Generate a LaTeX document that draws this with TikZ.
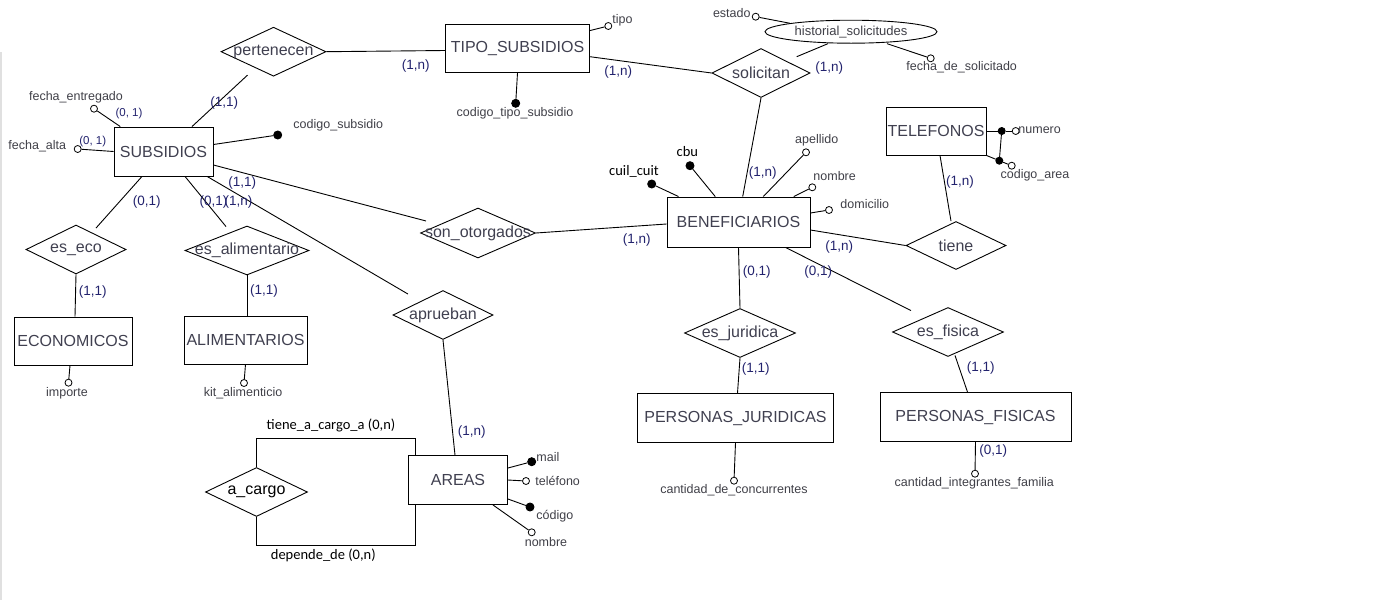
\documentclass[tikz,border=0pt]{standalone}
\usepackage{fontspec}
\setmainfont{Liberation Sans}
\newfontfamily\calib{Carlito}
\usetikzlibrary{shapes.geometric}
\definecolor{ertxt}{RGB}{64,64,80}
\definecolor{cardtxt}{RGB}{35,35,110}
\definecolor{atxt}{RGB}{64,64,72}

\begin{document}
\begin{tikzpicture}[x=1pt, y=-1pt, line width=0.9pt,
  ent/.style={draw, rectangle, minimum height=49pt, inner sep=1pt, text=ertxt, font=\fontsize{16}{18}\selectfont},
  rel/.style={draw, diamond, inner sep=0pt, minimum height=49pt, label={[reltxt]center:#1}},
  reltxt/.style={text=ertxt, font=\fontsize{16}{18}\selectfont, inner sep=0pt},
  card/.style={text=cardtxt, font=\fontsize{13.5}{15}\selectfont, inner sep=0pt},
  smallcard/.style={card, font=\fontsize{11.5}{13}\selectfont},
  attr/.style={text=atxt, font=\fontsize{12.5}{14}\selectfont, inner sep=0pt},
  blk/.style={text=black, font=\calib\fontsize{14.5}{16}\selectfont, inner sep=0pt},
  opdot/.style={circle, draw, fill=white, inner sep=0pt, minimum size=7pt, line width=0.8pt},
  kdot/.style={circle, draw, fill=black, inner sep=0pt, minimum size=8pt}]

\path[use as bounding box, fill=white] (0,0) rectangle (1400,600);
\draw[black!12, line width=1.5pt] (0.75,52) -- (0.75,600);

% entidades
\node[ent, minimum width=99pt] (sub) at (163.5,151.5) {SUBSIDIOS};
\node[ent, minimum width=144pt, minimum height=48pt] (tipo) at (517.5,48.5) {TIPO\_SUBSIDIOS};
\node[ent, minimum width=143pt, minimum height=50pt] (ben) at (738.5,222) {BENEFICIARIOS};
\node[ent, minimum width=100pt, minimum height=48pt] (tel) at (936,131) {TELEFONOS};
\node[ent, minimum width=118pt, minimum height=48pt] (eco) at (73,341) {ECONOMICOS};
\node[ent, minimum width=123pt, minimum height=48pt] (ali) at (245.5,340) {ALIMENTARIOS};
\node[ent, minimum width=99pt] (areas) at (458,480) {AREAS};
\node[ent, minimum width=196pt] (pju) at (735.5,418) {PERSONAS\_JURIDICAS};
\node[ent, minimum width=191pt] (pfi) at (975.5,417) {PERSONAS\_FISICAS};

% relaciones
\node[rel=pertenecen, minimum width=105pt] (pert) at (273.5,51.7) {};
\node[rel=solicitan, minimum width=98pt] (solic) at (761,73) {};
\node[rel=son\_otorgados, minimum width=115pt, minimum height=50pt] (sonot) at (478,233) {};
\node[rel=aprueban, minimum width=100pt] (aprue) at (443,315) {};
\node[rel=es\_eco, minimum width=100pt] (eseco) at (76,249.5) {};
\node[rel=es\_alimentario, minimum width=124pt] (esali) at (247,250.5) {};
\node[rel=tiene, minimum width=100pt, minimum height=48pt] (tiene) at (956,245.5) {};
\node[rel=es\_juridica, minimum width=111pt] (esjur) at (740,333) {};
\node[rel=es\_fisica, minimum width=111pt] (esfis) at (948,332) {};
\node[rel={\color{black}a\_cargo}, minimum width=102pt] (acargo) at (256.5,492) {};
\node[draw, ellipse, inner sep=0pt, minimum width=172pt, minimum height=23pt, text=atxt, font=\fontsize{13}{15}\selectfont] (hist) at (851,31.7) {historial\_solicitudes};

% conexiones
\draw ([shift={(28.5,0)}]sub.north) -- ([shift={(-26,-1.5)}]pert.south);
\draw (pert.east) -- ([shift={(0,2)}]tipo.west);
\draw ([shift={(0,8.2)}]tipo.east) -- (solic.west);
\draw (solic.south) -- ([shift={(4.2,0)}]ben.north);
\draw ([shift={(0,13.5)}]sub.east) -- ([shift={(6,-12)}]sonot.west);
\draw (sonot.east) -- ([shift={(0,2)}]ben.west);
\draw ([shift={(-6.3,0)}]sub.south east) -- ([shift={(-35,4)}]aprue.north);
\draw (aprue.south) -- ([shift={(-3,0)}]areas.north);
\draw ([shift={(-21.5,0)}]sub.south) -- ([shift={(20,3.5)}]eseco.north);
\draw ([shift={(21.5,0)}]sub.south) -- ([shift={(-21,1)}]esali.north);
\draw (eseco.south) -- ([shift={(2,0)}]eco.north);
\draw (esali.south) -- ([shift={(1.5,0)}]ali.north);
\draw ([shift={(0,8)}]ben.east) -- (tiene.west);
\draw ([shift={(4,0)}]tel.south) -- ([shift={(-5,0)}]tiene.north);
\draw (ben.south) -- (esjur.north);
\draw ([shift={(47,0)}]ben.south) -- ([shift={(-37,3.5)}]esfis.north);
\draw (esjur.south) -- ([shift={(2,0)}]pju.north);
\draw ([shift={(7,-1.5)}]esfis.south) -- ([shift={(-8,0)}]pfi.north);
\draw (acargo.north) |- ([shift={(7,-17)}]areas.north west) -- ([shift={(7,0)}]areas.north west);
\draw (acargo.south) |- ([shift={(7,40)}]areas.south west) -- ([shift={(7,0)}]areas.south west);
\coordinate (histend) at (796.7,56.7);
\draw ([shift={(-23,0)}]hist.south) -- (histend);

% atributos SUBSIDIOS
\node[opdot] (fent) at (94,108.7) {};
\node[attr] (fentl) at (76,97.7) {fecha\_entregado};
\node[opdot] (falt) at (77.7,149) {};
\node[attr] (faltl) at (37.3,146.7) {fecha\_alta};
\node[kdot] (csub) at (277.7,135) {};
\node[attr] (csubl) at (338.3,125.7) {codigo\_subsidio};
\draw ([shift={(6.7,0)}]sub.north west) -- (fent);
\draw (sub.west) -- (falt);
\draw ([shift={(0,-7)}]sub.east) -- (csub);

% atributos TIPO_SUBSIDIOS
\node[opdot] (tip) at (608.3,26) {};
\node[attr, anchor=west] (tipl) at (612,20.7) {tipo};
\node[kdot] (ctip) at (515.7,103.3) {};
\node[attr] (ctipl) at (515,113.3) {codigo\_tipo\_subsidio};
\draw ([shift={(0,6.5)}]tipo.north east) -- (tip);
\draw (tipo.south) -- (ctip);

% atributos historial
\node[opdot] (est) at (755.7,16.7) {};
\node[attr, anchor=east] (estl) at (751,13.3) {estado};
\node[opdot] (fsol) at (930.7,58.3) {};
\node[attr] (fsoll) at (961.7,67.7) {fecha\_de\_solicitado};
\draw (est) -- (hist.north west);
\draw ([shift={(36,0)}]hist.south) -- (fsol);

% atributos BENEFICIARIOS
\node[kdot] (cuil) at (651.7,184) {};
\node[blk] (cuill) at (634,171.7) {cuil\_cuit};
\node[kdot] (cbu) at (690,165.7) {};
\node[blk] (cbul) at (687.3,151.7) {cbu};
\node[opdot] (ape) at (806,152.3) {};
\node[attr] (apel) at (816.7,140.7) {apellido};
\node[opdot] (nom) at (812.3,187.3) {};
\node[attr, anchor=west] (noml) at (813,175.7) {nombre};
\node[opdot] (dom) at (829,210) {};
\node[attr, anchor=west] (doml) at (840,204) {domicilio};
\draw ([shift={(12,0)}]ben.north west) -- (cuil);
\draw ([shift={(48.7,0)}]ben.north west) -- (cbu);
\draw ([shift={(24.8,0)}]ben.north) -- (ape);
\draw ([shift={(-16.7,0)}]ben.north east) -- (nom);
\draw ([shift={(0,-9)}]ben.east) -- (dom);

% atributos TELEFONOS
\node[kdot, minimum size=7pt] (tk1) at (1001.7,131) {};
\node[opdot] (num) at (1015.7,131) {};
\node[attr, anchor=west] (numl) at (1018,130) {numero};
\node[kdot, minimum size=7pt] (tk2) at (999.3,160.7) {};
\node[opdot] (car) at (1011.7,165.7) {};
\node[attr] (carl) at (1035,175.7) {codigo\_area};
\draw (tel.east) -- (tk1) -- (num);
\draw (tk1) -- (tk2);
\draw (tel.south east) -- (tk2) -- (car);

% atributos ECONOMICOS / ALIMENTARIOS
\node[opdot] (imp) at (68.5,382.7) {};
\node[attr] (impl) at (67,393) {importe};
\node[opdot] (kit) at (244,383) {};
\node[attr] (kitl) at (243,393.3) {kit\_alimenticio};
\draw ([shift={(-3,0)}]eco.south) -- (imp);
\draw (ali.south) -- (kit);

% atributos PERSONAS
\node[opdot] (ccon) at (734,480.7) {};
\node[attr] (cconl) at (734,490.5) {cantidad\_de\_concurrentes};
\node[opdot] (cint) at (975,473.7) {};
\node[attr] (cintl) at (974.3,483.5) {cantidad\_integrantes\_familia};
\draw (pju.south) -- (ccon);
\draw (pfi.south) -- (cint);

% atributos AREAS
\node[kdot] (mail) at (531.7,461.7) {};
\node[attr, anchor=west] (maill) at (536,457.3) {mail};
\node[opdot] (atel) at (526,481) {};
\node[attr, anchor=west] (atell) at (535,481) {teléfono};
\node[kdot] (cod) at (530,507) {};
\node[attr, anchor=west] (codl) at (536,515.7) {código};
\node[opdot] (anom) at (531.7,532.3) {};
\node[attr] (anoml) at (546,541.7) {nombre};
\draw ([shift={(0,-12)}]areas.east) -- (mail);
\draw (areas.east) -- (atel);
\draw ([shift={(0,19)}]areas.east) -- (cod);
\draw ([shift={(-15,0)}]areas.south east) -- (anom);

% a_cargo
\node[blk] (tacl) at (331,425) {tiene\_a\_cargo\_a (0,n)};
\node[blk] (depl) at (323.3,555) {depende\_de (0,n)};

% cardinalidades
\node[card] (c1) at (224.3,103.3) {(1,1)};
\node[card] (c2) at (415.7,65.7) {(1,n)};
\node[card] (c3) at (618.3,72) {(1,n)};
\node[card] (c4) at (829.3,68.3) {(1,n)};
\node[card] (c5) at (762.7,172.7) {(1,n)};
\node[card] (c6) at (242.3,182.7) {(1,1)};
\node[card] (c7) at (146.7,202) {(0,1)};
\node[card] (c8) at (213.5,202) {(0,1)};
\node[card] (c9) at (238.5,202) {(1,n)};
\node[card] (c10) at (636.7,240) {(1,n)};
\node[card] (c11) at (92.7,291.7) {(1,1)};
\node[card] (c12) at (264,291.3) {(1,1)};
\node[card] (c13) at (839.3,246.7) {(1,n)};
\node[card] (c14) at (960,181.7) {(1,n)};
\node[card] (c15) at (756.7,272.3) {(0,1)};
\node[card] (c16) at (818.3,272.3) {(0,1)};
\node[card] (c17) at (755.7,369.3) {(1,1)};
\node[card] (c18) at (980.7,367.7) {(1,1)};
\node[card] (c19) at (993.3,450.7) {(0,1)};
\node[card] (c20) at (471.7,431.7) {(1,n)};
\node[smallcard] (c21) at (129,113.3) {(0, 1)};
\node[smallcard] (c22) at (92.7,141.3) {(0, 1)};
\end{tikzpicture}
\end{document}
